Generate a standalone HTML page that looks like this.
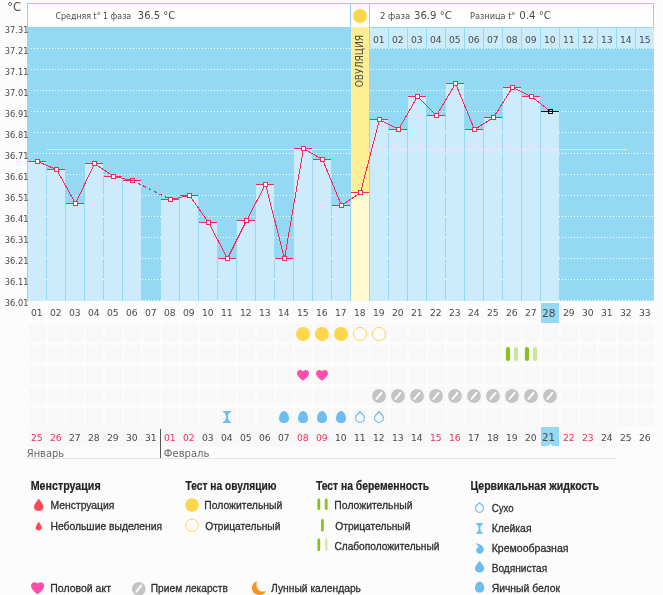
<!DOCTYPE html><html><head><meta charset="utf-8"><style>
html,body{margin:0;padding:0;background:#fcfcfc;}
body{width:663px;height:595px;overflow:hidden;position:relative;}
svg{position:absolute;left:0;top:0;will-change:transform;}
text{font-family:"Liberation Sans",Arial,sans-serif;}
</style></head><body>
<svg width="663" height="595" viewBox="0 0 663 595" shape-rendering="crispEdges">
<defs>
<pattern id="dots" x="0" y="0" width="3" height="1" patternUnits="userSpaceOnUse"><rect x="1" y="0" width="1" height="1" fill="#fff"/></pattern>
<pattern id="hatch" x="0" y="0" width="2" height="2" patternUnits="userSpaceOnUse"><rect width="2" height="2" fill="#fcfcfc"/><rect x="0" y="0" width="1" height="1" fill="#f4f4f4"/><rect x="1" y="1" width="1" height="1" fill="#f4f4f4"/></pattern>
</defs>
<rect x="27" y="3" width="627" height="24" fill="#fefefe"/>
<rect x="27" y="3" width="627" height="1" fill="#8fd5f1"/>
<rect x="27" y="3" width="1" height="24" fill="#8fd5f1"/>
<rect x="653" y="3" width="1" height="24" fill="#8fd5f1"/>
<rect x="350" y="3" width="1" height="24" fill="#8fd5f1"/>
<rect x="369" y="3" width="1" height="24" fill="#8fd5f1"/>
<rect x="27" y="27" width="627" height="274" fill="#94d9f3"/>
<rect x="30" y="48" width="624" height="1" fill="url(#dots)"/>
<rect x="30" y="69" width="624" height="1" fill="url(#dots)"/>
<rect x="30" y="90" width="624" height="1" fill="url(#dots)"/>
<rect x="30" y="111" width="624" height="1" fill="url(#dots)"/>
<rect x="30" y="132" width="624" height="1" fill="url(#dots)"/>
<rect x="30" y="153" width="624" height="1" fill="url(#dots)"/>
<rect x="30" y="174" width="624" height="1" fill="url(#dots)"/>
<rect x="30" y="195" width="624" height="1" fill="url(#dots)"/>
<rect x="30" y="216" width="624" height="1" fill="url(#dots)"/>
<rect x="30" y="237" width="624" height="1" fill="url(#dots)"/>
<rect x="30" y="258" width="624" height="1" fill="url(#dots)"/>
<rect x="30" y="279" width="624" height="1" fill="url(#dots)"/>
<rect x="30" y="300" width="624" height="1" fill="url(#dots)"/>
<rect x="351" y="27" width="18" height="274" fill="#fdee94"/>
<rect x="370" y="28" width="18" height="20" fill="#cdecfb"/>
<rect x="389" y="28" width="18" height="20" fill="#cdecfb"/>
<rect x="408" y="28" width="18" height="20" fill="#cdecfb"/>
<rect x="427" y="28" width="18" height="20" fill="#cdecfb"/>
<rect x="446" y="28" width="18" height="20" fill="#cdecfb"/>
<rect x="465" y="28" width="18" height="20" fill="#cdecfb"/>
<rect x="484" y="28" width="18" height="20" fill="#cdecfb"/>
<rect x="503" y="28" width="18" height="20" fill="#cdecfb"/>
<rect x="522" y="28" width="18" height="20" fill="#cdecfb"/>
<rect x="541" y="28" width="18" height="20" fill="#cdecfb"/>
<rect x="560" y="28" width="18" height="20" fill="#cdecfb"/>
<rect x="579" y="28" width="18" height="20" fill="#cdecfb"/>
<rect x="598" y="28" width="18" height="20" fill="#cdecfb"/>
<rect x="617" y="28" width="18" height="20" fill="#cdecfb"/>
<rect x="636" y="28" width="18" height="20" fill="#cdecfb"/>
<rect x="28" y="161" width="18" height="140" fill="#cdecfb"/>
<rect x="47" y="169" width="18" height="132" fill="#cdecfb"/>
<rect x="66" y="203" width="18" height="98" fill="#cdecfb"/>
<rect x="85" y="163" width="18" height="138" fill="#cdecfb"/>
<rect x="104" y="176" width="18" height="125" fill="#cdecfb"/>
<rect x="123" y="180" width="18" height="121" fill="#cdecfb"/>
<rect x="161" y="199" width="18" height="102" fill="#cdecfb"/>
<rect x="180" y="195" width="18" height="106" fill="#cdecfb"/>
<rect x="199" y="222" width="18" height="79" fill="#cdecfb"/>
<rect x="218" y="258" width="18" height="43" fill="#cdecfb"/>
<rect x="237" y="220" width="18" height="81" fill="#cdecfb"/>
<rect x="256" y="184" width="18" height="117" fill="#cdecfb"/>
<rect x="275" y="258" width="18" height="43" fill="#cdecfb"/>
<rect x="294" y="148" width="18" height="153" fill="#cdecfb"/>
<rect x="313" y="159" width="18" height="142" fill="#cdecfb"/>
<rect x="332" y="205" width="18" height="96" fill="#cdecfb"/>
<rect x="351" y="192" width="18" height="109" fill="#fff9d0"/>
<rect x="370" y="119" width="18" height="182" fill="#cdecfb"/>
<rect x="389" y="129" width="18" height="172" fill="#cdecfb"/>
<rect x="408" y="96" width="18" height="205" fill="#cdecfb"/>
<rect x="427" y="115" width="18" height="186" fill="#cdecfb"/>
<rect x="446" y="83" width="18" height="218" fill="#cdecfb"/>
<rect x="465" y="129" width="18" height="172" fill="#cdecfb"/>
<rect x="484" y="117" width="18" height="184" fill="#cdecfb"/>
<rect x="503" y="87" width="18" height="214" fill="#cdecfb"/>
<rect x="522" y="96" width="18" height="205" fill="#cdecfb"/>
<rect x="541" y="111" width="18" height="190" fill="#cdecfb"/>
<rect x="47" y="149" width="580" height="1" fill="#fdee93"/>
<rect x="28" y="161" width="18" height="1" fill="#f5295c"/>
<rect x="47" y="169" width="18" height="1" fill="#f5295c"/>
<rect x="66" y="203" width="18" height="1" fill="#f5295c"/>
<rect x="85" y="163" width="18" height="1" fill="#f5295c"/>
<rect x="104" y="176" width="18" height="1" fill="#f5295c"/>
<rect x="123" y="180" width="18" height="1" fill="#f5295c"/>
<rect x="161" y="199" width="18" height="1" fill="#f5295c"/>
<rect x="180" y="195" width="18" height="1" fill="#f5295c"/>
<rect x="199" y="222" width="18" height="1" fill="#f5295c"/>
<rect x="218" y="258" width="18" height="1" fill="#f5295c"/>
<rect x="237" y="220" width="18" height="1" fill="#f5295c"/>
<rect x="256" y="184" width="18" height="1" fill="#f5295c"/>
<rect x="275" y="258" width="18" height="1" fill="#f5295c"/>
<rect x="294" y="148" width="18" height="1" fill="#f5295c"/>
<rect x="313" y="159" width="18" height="1" fill="#f5295c"/>
<rect x="332" y="205" width="18" height="1" fill="#f5295c"/>
<rect x="351" y="192" width="18" height="1" fill="#f5295c"/>
<rect x="370" y="119" width="18" height="1" fill="#f5295c"/>
<rect x="389" y="129" width="18" height="1" fill="#f5295c"/>
<rect x="408" y="96" width="18" height="1" fill="#f5295c"/>
<rect x="427" y="115" width="18" height="1" fill="#f5295c"/>
<rect x="446" y="83" width="18" height="1" fill="#f5295c"/>
<rect x="465" y="129" width="18" height="1" fill="#f5295c"/>
<rect x="484" y="117" width="18" height="1" fill="#f5295c"/>
<rect x="503" y="87" width="18" height="1" fill="#f5295c"/>
<rect x="522" y="96" width="18" height="1" fill="#f5295c"/>
<rect x="541" y="111" width="18" height="1" fill="#111"/>
<path d="M37.5,161.5 L56.5,169.5 M56.5,169.5 L75.5,203.5 M75.5,203.5 L94.5,163.5 M94.5,163.5 L113.5,176.5 M113.5,176.5 L132.5,180.5 M170.5,199.5 L189.5,195.5 M189.5,195.5 L208.5,222.5 M208.5,222.5 L227.5,258.5 M227.5,258.5 L246.5,220.5 M246.5,220.5 L265.5,184.5 M265.5,184.5 L284.5,258.5 M284.5,258.5 L303.5,148.5 M303.5,148.5 L322.5,159.5 M322.5,159.5 L341.5,205.5 M341.5,205.5 L360.5,192.5 M360.5,192.5 L379.5,119.5 M379.5,119.5 L398.5,129.5 M398.5,129.5 L417.5,96.5 M417.5,96.5 L436.5,115.5 M436.5,115.5 L455.5,83.5 M455.5,83.5 L474.5,129.5 M474.5,129.5 L493.5,117.5 M493.5,117.5 L512.5,87.5 M512.5,87.5 L531.5,96.5 M531.5,96.5 L550.5,111.5" stroke="#f5295c" stroke-width="1" fill="none" shape-rendering="crispEdges"/>
<path d="M132.5,180.5 L170.5,199.5" stroke="#f5295c" stroke-width="1" stroke-dasharray="3,3" fill="none" shape-rendering="crispEdges"/>
<rect x="35" y="159" width="5" height="5" fill="#f5295c"/><rect x="36" y="160" width="3" height="3" fill="#fff"/>
<rect x="54" y="167" width="5" height="5" fill="#f5295c"/><rect x="55" y="168" width="3" height="3" fill="#fff"/>
<rect x="73" y="201" width="5" height="5" fill="#f5295c"/><rect x="74" y="202" width="3" height="3" fill="#fff"/>
<rect x="92" y="161" width="5" height="5" fill="#f5295c"/><rect x="93" y="162" width="3" height="3" fill="#fff"/>
<rect x="111" y="174" width="5" height="5" fill="#f5295c"/><rect x="112" y="175" width="3" height="3" fill="#fff"/>
<path d="M130,178h5v5h-5Z M131,179v3h3v-3Z" fill="#f5295c" fill-rule="evenodd"/><rect x="131" y="180" width="3" height="1" fill="#f5295c"/><rect x="131" y="181" width="3" height="1" fill="#e6f6fd"/>
<rect x="168" y="197" width="5" height="5" fill="#f5295c"/><rect x="169" y="198" width="3" height="3" fill="#fff"/>
<rect x="187" y="193" width="5" height="5" fill="#f5295c"/><rect x="188" y="194" width="3" height="3" fill="#fff"/>
<rect x="206" y="220" width="5" height="5" fill="#f5295c"/><rect x="207" y="221" width="3" height="3" fill="#fff"/>
<rect x="225" y="256" width="5" height="5" fill="#f5295c"/><rect x="226" y="257" width="3" height="3" fill="#fff"/>
<rect x="244" y="218" width="5" height="5" fill="#f5295c"/><rect x="245" y="219" width="3" height="3" fill="#fff"/>
<rect x="263" y="182" width="5" height="5" fill="#f5295c"/><rect x="264" y="183" width="3" height="3" fill="#fff"/>
<rect x="282" y="256" width="5" height="5" fill="#f5295c"/><rect x="283" y="257" width="3" height="3" fill="#fff"/>
<rect x="301" y="146" width="5" height="5" fill="#f5295c"/><rect x="302" y="147" width="3" height="3" fill="#fff"/>
<rect x="320" y="157" width="5" height="5" fill="#f5295c"/><rect x="321" y="158" width="3" height="3" fill="#fff"/>
<rect x="339" y="203" width="5" height="5" fill="#f5295c"/><rect x="340" y="204" width="3" height="3" fill="#fff"/>
<rect x="358" y="190" width="5" height="5" fill="#f5295c"/><rect x="359" y="191" width="3" height="3" fill="#fff"/>
<rect x="377" y="117" width="5" height="5" fill="#f5295c"/><rect x="378" y="118" width="3" height="3" fill="#fff"/>
<rect x="396" y="127" width="5" height="5" fill="#f5295c"/><rect x="397" y="128" width="3" height="3" fill="#fff"/>
<rect x="415" y="94" width="5" height="5" fill="#f5295c"/><rect x="416" y="95" width="3" height="3" fill="#fff"/>
<rect x="434" y="113" width="5" height="5" fill="#f5295c"/><rect x="435" y="114" width="3" height="3" fill="#fff"/>
<rect x="453" y="81" width="5" height="5" fill="#f5295c"/><rect x="454" y="82" width="3" height="3" fill="#fff"/>
<rect x="472" y="127" width="5" height="5" fill="#f5295c"/><rect x="473" y="128" width="3" height="3" fill="#fff"/>
<rect x="491" y="115" width="5" height="5" fill="#f5295c"/><rect x="492" y="116" width="3" height="3" fill="#fff"/>
<rect x="510" y="85" width="5" height="5" fill="#f5295c"/><rect x="511" y="86" width="3" height="3" fill="#fff"/>
<rect x="529" y="94" width="5" height="5" fill="#f5295c"/><rect x="530" y="95" width="3" height="3" fill="#fff"/>
<path d="M548,109h5v5h-5Z M549,110v3h3v-3Z" fill="#111" fill-rule="evenodd"/><rect x="549" y="111" width="3" height="1" fill="#111"/><rect x="549" y="112" width="3" height="1" fill="#e6f6fd"/>
<circle cx="360" cy="16" r="7" fill="#fdd64c" shape-rendering="geometricPrecision"/>
<text transform="translate(363.2,87.3) rotate(-90)" font-size="10" fill="#4a4a4a" textLength="52.3" lengthAdjust="spacingAndGlyphs" style="font-family:'DejaVu Sans Condensed','DejaVu Sans',sans-serif">ОВУЛЯЦИЯ</text>
<rect x="541" y="303" width="18" height="20" fill="#94d9f3"/>
<rect x="29" y="324" width="17" height="18" fill="url(#hatch)"/>
<rect x="48" y="324" width="17" height="18" fill="url(#hatch)"/>
<rect x="67" y="324" width="17" height="18" fill="url(#hatch)"/>
<rect x="86" y="324" width="17" height="18" fill="url(#hatch)"/>
<rect x="105" y="324" width="17" height="18" fill="url(#hatch)"/>
<rect x="124" y="324" width="17" height="18" fill="url(#hatch)"/>
<rect x="143" y="324" width="17" height="18" fill="url(#hatch)"/>
<rect x="162" y="324" width="17" height="18" fill="url(#hatch)"/>
<rect x="181" y="324" width="17" height="18" fill="url(#hatch)"/>
<rect x="200" y="324" width="17" height="18" fill="url(#hatch)"/>
<rect x="219" y="324" width="17" height="18" fill="url(#hatch)"/>
<rect x="238" y="324" width="17" height="18" fill="url(#hatch)"/>
<rect x="257" y="324" width="17" height="18" fill="url(#hatch)"/>
<rect x="276" y="324" width="17" height="18" fill="url(#hatch)"/>
<rect x="295" y="324" width="17" height="18" fill="url(#hatch)"/>
<rect x="314" y="324" width="17" height="18" fill="url(#hatch)"/>
<rect x="333" y="324" width="17" height="18" fill="url(#hatch)"/>
<rect x="352" y="324" width="17" height="18" fill="url(#hatch)"/>
<rect x="371" y="324" width="17" height="18" fill="url(#hatch)"/>
<rect x="390" y="324" width="17" height="18" fill="url(#hatch)"/>
<rect x="409" y="324" width="17" height="18" fill="url(#hatch)"/>
<rect x="428" y="324" width="17" height="18" fill="url(#hatch)"/>
<rect x="447" y="324" width="17" height="18" fill="url(#hatch)"/>
<rect x="466" y="324" width="17" height="18" fill="url(#hatch)"/>
<rect x="485" y="324" width="17" height="18" fill="url(#hatch)"/>
<rect x="504" y="324" width="17" height="18" fill="url(#hatch)"/>
<rect x="523" y="324" width="17" height="18" fill="url(#hatch)"/>
<rect x="542" y="324" width="17" height="18" fill="url(#hatch)"/>
<rect x="561" y="324" width="17" height="18" fill="url(#hatch)"/>
<rect x="580" y="324" width="17" height="18" fill="url(#hatch)"/>
<rect x="599" y="324" width="17" height="18" fill="url(#hatch)"/>
<rect x="618" y="324" width="17" height="18" fill="url(#hatch)"/>
<rect x="637" y="324" width="17" height="18" fill="url(#hatch)"/>
<rect x="29" y="345" width="17" height="18" fill="url(#hatch)"/>
<rect x="48" y="345" width="17" height="18" fill="url(#hatch)"/>
<rect x="67" y="345" width="17" height="18" fill="url(#hatch)"/>
<rect x="86" y="345" width="17" height="18" fill="url(#hatch)"/>
<rect x="105" y="345" width="17" height="18" fill="url(#hatch)"/>
<rect x="124" y="345" width="17" height="18" fill="url(#hatch)"/>
<rect x="143" y="345" width="17" height="18" fill="url(#hatch)"/>
<rect x="162" y="345" width="17" height="18" fill="url(#hatch)"/>
<rect x="181" y="345" width="17" height="18" fill="url(#hatch)"/>
<rect x="200" y="345" width="17" height="18" fill="url(#hatch)"/>
<rect x="219" y="345" width="17" height="18" fill="url(#hatch)"/>
<rect x="238" y="345" width="17" height="18" fill="url(#hatch)"/>
<rect x="257" y="345" width="17" height="18" fill="url(#hatch)"/>
<rect x="276" y="345" width="17" height="18" fill="url(#hatch)"/>
<rect x="295" y="345" width="17" height="18" fill="url(#hatch)"/>
<rect x="314" y="345" width="17" height="18" fill="url(#hatch)"/>
<rect x="333" y="345" width="17" height="18" fill="url(#hatch)"/>
<rect x="352" y="345" width="17" height="18" fill="url(#hatch)"/>
<rect x="371" y="345" width="17" height="18" fill="url(#hatch)"/>
<rect x="390" y="345" width="17" height="18" fill="url(#hatch)"/>
<rect x="409" y="345" width="17" height="18" fill="url(#hatch)"/>
<rect x="428" y="345" width="17" height="18" fill="url(#hatch)"/>
<rect x="447" y="345" width="17" height="18" fill="url(#hatch)"/>
<rect x="466" y="345" width="17" height="18" fill="url(#hatch)"/>
<rect x="485" y="345" width="17" height="18" fill="url(#hatch)"/>
<rect x="504" y="345" width="17" height="18" fill="url(#hatch)"/>
<rect x="523" y="345" width="17" height="18" fill="url(#hatch)"/>
<rect x="542" y="345" width="17" height="18" fill="url(#hatch)"/>
<rect x="561" y="345" width="17" height="18" fill="url(#hatch)"/>
<rect x="580" y="345" width="17" height="18" fill="url(#hatch)"/>
<rect x="599" y="345" width="17" height="18" fill="url(#hatch)"/>
<rect x="618" y="345" width="17" height="18" fill="url(#hatch)"/>
<rect x="637" y="345" width="17" height="18" fill="url(#hatch)"/>
<rect x="29" y="366" width="17" height="18" fill="url(#hatch)"/>
<rect x="48" y="366" width="17" height="18" fill="url(#hatch)"/>
<rect x="67" y="366" width="17" height="18" fill="url(#hatch)"/>
<rect x="86" y="366" width="17" height="18" fill="url(#hatch)"/>
<rect x="105" y="366" width="17" height="18" fill="url(#hatch)"/>
<rect x="124" y="366" width="17" height="18" fill="url(#hatch)"/>
<rect x="143" y="366" width="17" height="18" fill="url(#hatch)"/>
<rect x="162" y="366" width="17" height="18" fill="url(#hatch)"/>
<rect x="181" y="366" width="17" height="18" fill="url(#hatch)"/>
<rect x="200" y="366" width="17" height="18" fill="url(#hatch)"/>
<rect x="219" y="366" width="17" height="18" fill="url(#hatch)"/>
<rect x="238" y="366" width="17" height="18" fill="url(#hatch)"/>
<rect x="257" y="366" width="17" height="18" fill="url(#hatch)"/>
<rect x="276" y="366" width="17" height="18" fill="url(#hatch)"/>
<rect x="295" y="366" width="17" height="18" fill="url(#hatch)"/>
<rect x="314" y="366" width="17" height="18" fill="url(#hatch)"/>
<rect x="333" y="366" width="17" height="18" fill="url(#hatch)"/>
<rect x="352" y="366" width="17" height="18" fill="url(#hatch)"/>
<rect x="371" y="366" width="17" height="18" fill="url(#hatch)"/>
<rect x="390" y="366" width="17" height="18" fill="url(#hatch)"/>
<rect x="409" y="366" width="17" height="18" fill="url(#hatch)"/>
<rect x="428" y="366" width="17" height="18" fill="url(#hatch)"/>
<rect x="447" y="366" width="17" height="18" fill="url(#hatch)"/>
<rect x="466" y="366" width="17" height="18" fill="url(#hatch)"/>
<rect x="485" y="366" width="17" height="18" fill="url(#hatch)"/>
<rect x="504" y="366" width="17" height="18" fill="url(#hatch)"/>
<rect x="523" y="366" width="17" height="18" fill="url(#hatch)"/>
<rect x="542" y="366" width="17" height="18" fill="url(#hatch)"/>
<rect x="561" y="366" width="17" height="18" fill="url(#hatch)"/>
<rect x="580" y="366" width="17" height="18" fill="url(#hatch)"/>
<rect x="599" y="366" width="17" height="18" fill="url(#hatch)"/>
<rect x="618" y="366" width="17" height="18" fill="url(#hatch)"/>
<rect x="637" y="366" width="17" height="18" fill="url(#hatch)"/>
<rect x="29" y="387" width="17" height="18" fill="url(#hatch)"/>
<rect x="48" y="387" width="17" height="18" fill="url(#hatch)"/>
<rect x="67" y="387" width="17" height="18" fill="url(#hatch)"/>
<rect x="86" y="387" width="17" height="18" fill="url(#hatch)"/>
<rect x="105" y="387" width="17" height="18" fill="url(#hatch)"/>
<rect x="124" y="387" width="17" height="18" fill="url(#hatch)"/>
<rect x="143" y="387" width="17" height="18" fill="url(#hatch)"/>
<rect x="162" y="387" width="17" height="18" fill="url(#hatch)"/>
<rect x="181" y="387" width="17" height="18" fill="url(#hatch)"/>
<rect x="200" y="387" width="17" height="18" fill="url(#hatch)"/>
<rect x="219" y="387" width="17" height="18" fill="url(#hatch)"/>
<rect x="238" y="387" width="17" height="18" fill="url(#hatch)"/>
<rect x="257" y="387" width="17" height="18" fill="url(#hatch)"/>
<rect x="276" y="387" width="17" height="18" fill="url(#hatch)"/>
<rect x="295" y="387" width="17" height="18" fill="url(#hatch)"/>
<rect x="314" y="387" width="17" height="18" fill="url(#hatch)"/>
<rect x="333" y="387" width="17" height="18" fill="url(#hatch)"/>
<rect x="352" y="387" width="17" height="18" fill="url(#hatch)"/>
<rect x="371" y="387" width="17" height="18" fill="url(#hatch)"/>
<rect x="390" y="387" width="17" height="18" fill="url(#hatch)"/>
<rect x="409" y="387" width="17" height="18" fill="url(#hatch)"/>
<rect x="428" y="387" width="17" height="18" fill="url(#hatch)"/>
<rect x="447" y="387" width="17" height="18" fill="url(#hatch)"/>
<rect x="466" y="387" width="17" height="18" fill="url(#hatch)"/>
<rect x="485" y="387" width="17" height="18" fill="url(#hatch)"/>
<rect x="504" y="387" width="17" height="18" fill="url(#hatch)"/>
<rect x="523" y="387" width="17" height="18" fill="url(#hatch)"/>
<rect x="542" y="387" width="17" height="18" fill="url(#hatch)"/>
<rect x="561" y="387" width="17" height="18" fill="url(#hatch)"/>
<rect x="580" y="387" width="17" height="18" fill="url(#hatch)"/>
<rect x="599" y="387" width="17" height="18" fill="url(#hatch)"/>
<rect x="618" y="387" width="17" height="18" fill="url(#hatch)"/>
<rect x="637" y="387" width="17" height="18" fill="url(#hatch)"/>
<rect x="29" y="408" width="17" height="18" fill="url(#hatch)"/>
<rect x="48" y="408" width="17" height="18" fill="url(#hatch)"/>
<rect x="67" y="408" width="17" height="18" fill="url(#hatch)"/>
<rect x="86" y="408" width="17" height="18" fill="url(#hatch)"/>
<rect x="105" y="408" width="17" height="18" fill="url(#hatch)"/>
<rect x="124" y="408" width="17" height="18" fill="url(#hatch)"/>
<rect x="143" y="408" width="17" height="18" fill="url(#hatch)"/>
<rect x="162" y="408" width="17" height="18" fill="url(#hatch)"/>
<rect x="181" y="408" width="17" height="18" fill="url(#hatch)"/>
<rect x="200" y="408" width="17" height="18" fill="url(#hatch)"/>
<rect x="219" y="408" width="17" height="18" fill="url(#hatch)"/>
<rect x="238" y="408" width="17" height="18" fill="url(#hatch)"/>
<rect x="257" y="408" width="17" height="18" fill="url(#hatch)"/>
<rect x="276" y="408" width="17" height="18" fill="url(#hatch)"/>
<rect x="295" y="408" width="17" height="18" fill="url(#hatch)"/>
<rect x="314" y="408" width="17" height="18" fill="url(#hatch)"/>
<rect x="333" y="408" width="17" height="18" fill="url(#hatch)"/>
<rect x="352" y="408" width="17" height="18" fill="url(#hatch)"/>
<rect x="371" y="408" width="17" height="18" fill="url(#hatch)"/>
<rect x="390" y="408" width="17" height="18" fill="url(#hatch)"/>
<rect x="409" y="408" width="17" height="18" fill="url(#hatch)"/>
<rect x="428" y="408" width="17" height="18" fill="url(#hatch)"/>
<rect x="447" y="408" width="17" height="18" fill="url(#hatch)"/>
<rect x="466" y="408" width="17" height="18" fill="url(#hatch)"/>
<rect x="485" y="408" width="17" height="18" fill="url(#hatch)"/>
<rect x="504" y="408" width="17" height="18" fill="url(#hatch)"/>
<rect x="523" y="408" width="17" height="18" fill="url(#hatch)"/>
<rect x="542" y="408" width="17" height="18" fill="url(#hatch)"/>
<rect x="561" y="408" width="17" height="18" fill="url(#hatch)"/>
<rect x="580" y="408" width="17" height="18" fill="url(#hatch)"/>
<rect x="599" y="408" width="17" height="18" fill="url(#hatch)"/>
<rect x="618" y="408" width="17" height="18" fill="url(#hatch)"/>
<rect x="637" y="408" width="17" height="18" fill="url(#hatch)"/>
<rect x="28" y="426" width="589" height="21" fill="url(#hatch)"/>
<rect x="541" y="427" width="18" height="19" fill="#94d9f3"/>
<path d="M548.3,446 L550.5,443.6 L552.7,446 Z" fill="#fcfcfc" shape-rendering="geometricPrecision"/>
<rect x="160" y="429" width="1" height="30" fill="#555"/>
<rect x="27" y="458" width="590" height="1" fill="#e3e3e3"/>
<circle cx="303" cy="334" r="7" fill="#fdd64c" shape-rendering="geometricPrecision"/>
<circle cx="322" cy="334" r="7" fill="#fdd64c" shape-rendering="geometricPrecision"/>
<circle cx="341" cy="334" r="7" fill="#fdd64c" shape-rendering="geometricPrecision"/>
<circle cx="360" cy="334" r="6.5" fill="#fdfdfd" stroke="#fdd64c" stroke-width="1.0" shape-rendering="geometricPrecision"/>
<circle cx="379" cy="334" r="6.5" fill="#fdfdfd" stroke="#fdd64c" stroke-width="1.0" shape-rendering="geometricPrecision"/>
<path transform="translate(303,375.4) scale(1.0)" d="M0,5.4 C-1.5,4.2 -6,1 -6,-2.2 C-6,-4.2 -4.6,-5.5 -3,-5.5 C-1.6,-5.5 -0.5,-4.8 0,-4.2 C0.5,-4.8 1.6,-5.5 3,-5.5 C4.6,-5.5 6,-4.2 6,-2.2 C6,1 1.5,4.2 0,5.4 Z" fill="#ff4fac" shape-rendering="geometricPrecision"/>
<path transform="translate(322,375.4) scale(1.0)" d="M0,5.4 C-1.5,4.2 -6,1 -6,-2.2 C-6,-4.2 -4.6,-5.5 -3,-5.5 C-1.6,-5.5 -0.5,-4.8 0,-4.2 C0.5,-4.8 1.6,-5.5 3,-5.5 C4.6,-5.5 6,-4.2 6,-2.2 C6,1 1.5,4.2 0,5.4 Z" fill="#ff4fac" shape-rendering="geometricPrecision"/>
<g transform="translate(379,396)" shape-rendering="geometricPrecision"><circle r="6.9" fill="#c4c4c4"/><line x1="-2.6" y1="3.0" x2="2.5" y2="-3.2" stroke="#fff" stroke-width="1.9" stroke-linecap="round"/></g>
<g transform="translate(398,396)" shape-rendering="geometricPrecision"><circle r="6.9" fill="#c4c4c4"/><line x1="-2.6" y1="3.0" x2="2.5" y2="-3.2" stroke="#fff" stroke-width="1.9" stroke-linecap="round"/></g>
<g transform="translate(417,396)" shape-rendering="geometricPrecision"><circle r="6.9" fill="#c4c4c4"/><line x1="-2.6" y1="3.0" x2="2.5" y2="-3.2" stroke="#fff" stroke-width="1.9" stroke-linecap="round"/></g>
<g transform="translate(436,396)" shape-rendering="geometricPrecision"><circle r="6.9" fill="#c4c4c4"/><line x1="-2.6" y1="3.0" x2="2.5" y2="-3.2" stroke="#fff" stroke-width="1.9" stroke-linecap="round"/></g>
<g transform="translate(455,396)" shape-rendering="geometricPrecision"><circle r="6.9" fill="#c4c4c4"/><line x1="-2.6" y1="3.0" x2="2.5" y2="-3.2" stroke="#fff" stroke-width="1.9" stroke-linecap="round"/></g>
<g transform="translate(474,396)" shape-rendering="geometricPrecision"><circle r="6.9" fill="#c4c4c4"/><line x1="-2.6" y1="3.0" x2="2.5" y2="-3.2" stroke="#fff" stroke-width="1.9" stroke-linecap="round"/></g>
<g transform="translate(493,396)" shape-rendering="geometricPrecision"><circle r="6.9" fill="#c4c4c4"/><line x1="-2.6" y1="3.0" x2="2.5" y2="-3.2" stroke="#fff" stroke-width="1.9" stroke-linecap="round"/></g>
<g transform="translate(512,396)" shape-rendering="geometricPrecision"><circle r="6.9" fill="#c4c4c4"/><line x1="-2.6" y1="3.0" x2="2.5" y2="-3.2" stroke="#fff" stroke-width="1.9" stroke-linecap="round"/></g>
<g transform="translate(531,396)" shape-rendering="geometricPrecision"><circle r="6.9" fill="#c4c4c4"/><line x1="-2.6" y1="3.0" x2="2.5" y2="-3.2" stroke="#fff" stroke-width="1.9" stroke-linecap="round"/></g>
<g transform="translate(550,396)" shape-rendering="geometricPrecision"><circle r="6.9" fill="#c4c4c4"/><line x1="-2.6" y1="3.0" x2="2.5" y2="-3.2" stroke="#fff" stroke-width="1.9" stroke-linecap="round"/></g>
<rect x="505.9" y="347" width="4.2" height="14.1" rx="2.1" fill="#8dbf1e" shape-rendering="geometricPrecision"/><rect x="513.9" y="347" width="4.2" height="14.1" rx="2.1" fill="#cde29a" shape-rendering="geometricPrecision"/>
<rect x="524.9" y="347" width="4.2" height="14.1" rx="2.1" fill="#8dbf1e" shape-rendering="geometricPrecision"/><rect x="532.9" y="347" width="4.2" height="14.1" rx="2.1" fill="#cde29a" shape-rendering="geometricPrecision"/>
<path transform="translate(227,417) scale(1.05)" d="M-4,-5.8 L4,-5.8 L4,-5 C2.5,-4.2 1.1,-2.8 1,-1 L1,1 C1.1,2.8 2.5,4.2 4,5 L4,5.8 L-4,5.8 L-4,5 C-2.5,4.2 -1.1,2.8 -1,1 L-1,-1 C-1.1,-2.8 -2.5,-4.2 -4,-5 Z" fill="#6dbdf0" shape-rendering="geometricPrecision"/>
<path transform="translate(284,417) scale(1.0)" d="M0,-6.1 C3,-6.1 5,-2 5,1.4 C5,4.3 2.8,6 0,6 C-2.8,6 -5,4.3 -5,1.4 C-5,-2 -3,-6.1 0,-6.1 Z" fill="#6dbdf0" shape-rendering="geometricPrecision"/>
<path transform="translate(303,417) scale(1.0)" d="M0,-6.1 C3,-6.1 5,-2 5,1.4 C5,4.3 2.8,6 0,6 C-2.8,6 -5,4.3 -5,1.4 C-5,-2 -3,-6.1 0,-6.1 Z" fill="#6dbdf0" shape-rendering="geometricPrecision"/>
<path transform="translate(322,417) scale(1.0)" d="M0,-6.1 C3,-6.1 5,-2 5,1.4 C5,4.3 2.8,6 0,6 C-2.8,6 -5,4.3 -5,1.4 C-5,-2 -3,-6.1 0,-6.1 Z" fill="#6dbdf0" shape-rendering="geometricPrecision"/>
<path transform="translate(341,417) scale(1.0)" d="M0,-6.1 C3,-6.1 5,-2 5,1.4 C5,4.3 2.8,6 0,6 C-2.8,6 -5,4.3 -5,1.4 C-5,-2 -3,-6.1 0,-6.1 Z" fill="#6dbdf0" shape-rendering="geometricPrecision"/>
<path transform="translate(360,418.00)" d="M0,-6.20 L3.10,-3.05 A4.35,4.35 0 1 1 -3.10,-3.05 Z" fill="none" stroke="#6dbdf0" stroke-width="1.25" stroke-linejoin="round" shape-rendering="geometricPrecision"/>
<path transform="translate(379,418.00)" d="M0,-6.20 L3.10,-3.05 A4.35,4.35 0 1 1 -3.10,-3.05 Z" fill="none" stroke="#6dbdf0" stroke-width="1.25" stroke-linejoin="round" shape-rendering="geometricPrecision"/>
<path transform="translate(38.7,505)" d="M0,-6.5 C1.5,-4 4.7,-0.8 4.7,2 C4.7,4.6 2.6,6 0,6 C-2.6,6 -4.7,4.6 -4.7,2 C-4.7,-0.8 -1.5,-4 0,-6.5 Z" fill="#fb4a52" shape-rendering="geometricPrecision"/>
<path transform="translate(38.7,526.3)" d="M0,-4.5 C1,-3 3,-0.6 3,1.5 C3,3.2 1.6,4.2 0,4.2 C-1.6,4.2 -3,3.2 -3,1.5 C-3,-0.6 -1,-3 0,-4.5 Z" fill="#fb4a52" shape-rendering="geometricPrecision"/>
<circle cx="192" cy="505" r="6.8" fill="#fdd64c" shape-rendering="geometricPrecision"/>
<circle cx="192" cy="525.3" r="6.3" fill="none" stroke="#fdd64c" stroke-width="1.0" shape-rendering="geometricPrecision"/>
<rect x="317.4" y="498.5" width="2.8" height="11.6" rx="1.4" fill="#8dbf1e" shape-rendering="geometricPrecision"/><rect x="324.8" y="498.5" width="2.8" height="11.6" rx="1.4" fill="#8dbf1e" shape-rendering="geometricPrecision"/>
<rect x="321" y="519" width="2.8" height="12.6" rx="1.4" fill="#8dbf1e" shape-rendering="geometricPrecision"/>
<rect x="317.4" y="538.6" width="2.8" height="12.6" rx="1.4" fill="#8dbf1e" shape-rendering="geometricPrecision"/><rect x="324.8" y="538.6" width="2.8" height="12.6" rx="1.4" fill="#dbe9b4" shape-rendering="geometricPrecision"/>
<path transform="translate(479.5,508.27)" d="M0,-5.70 L2.85,-2.81 A4.002,4.002 0 1 1 -2.85,-2.81 Z" fill="none" stroke="#6dbdf0" stroke-width="1.25" stroke-linejoin="round" shape-rendering="geometricPrecision"/>
<path transform="translate(479.5,528.45) scale(0.93)" d="M-4,-5.8 L4,-5.8 L4,-5 C2.5,-4.2 1.1,-2.8 1,-1 L1,1 C1.1,2.8 2.5,4.2 4,5 L4,5.8 L-4,5.8 L-4,5 C-2.5,4.2 -1.1,2.8 -1,1 L-1,-1 C-1.1,-2.8 -2.5,-4.2 -4,-5 Z" fill="#6dbdf0" shape-rendering="geometricPrecision"/>
<path transform="translate(480,548.8) scale(1.0)" d="M-5,-5.6 C-1,-5.4 3.8,-3.4 3.8,0.8 C3.8,3.4 1.9,5 -0.3,5 C-2.5,5 -3.9,3.4 -3.9,1.5 C-3.9,0 -3,-1 -1.3,-1.5 C-2,-3.5 -3.5,-4.9 -5,-5.6 Z" fill="#6dbdf0" shape-rendering="geometricPrecision"/>
<path transform="translate(479.6,566.45) scale(1.0)" d="M0,-6 C0.6,-4 4.6,-1.2 4.6,2 C4.6,4.4 2.6,6 0,6 C-2.6,6 -4.6,4.4 -4.6,2 C-4.6,-1.2 -0.6,-4 0,-6 Z" fill="#6dbdf0" shape-rendering="geometricPrecision"/>
<path transform="translate(479.6,587.1) scale(0.92)" d="M0,-6.1 C3,-6.1 5,-2 5,1.4 C5,4.3 2.8,6 0,6 C-2.8,6 -5,4.3 -5,1.4 C-5,-2 -3,-6.1 0,-6.1 Z" fill="#6dbdf0" shape-rendering="geometricPrecision"/>
<path transform="translate(37.6,588.3) scale(1.1)" d="M0,5.4 C-1.5,4.2 -6,1 -6,-2.2 C-6,-4.2 -4.6,-5.5 -3,-5.5 C-1.6,-5.5 -0.5,-4.8 0,-4.2 C0.5,-4.8 1.6,-5.5 3,-5.5 C4.6,-5.5 6,-4.2 6,-2.2 C6,1 1.5,4.2 0,5.4 Z" fill="#ff4fac" shape-rendering="geometricPrecision"/>
<g transform="translate(138.8,588.8)" shape-rendering="geometricPrecision"><circle r="6.9" fill="#c4c4c4"/><line x1="-2.6" y1="3.0" x2="2.5" y2="-3.2" stroke="#fff" stroke-width="1.9" stroke-linecap="round"/></g>
<path transform="translate(259,588)" d="M-2,-7 C-6,-5.5 -7.5,-2 -7,1.5 C-6.3,5 -3,7 0.5,7 C3.5,7 6,5.5 7,3 C3.5,4.2 0.3,3.6 -1.2,1.1 C-2.7,-1.5 -2.9,-4.5 -2,-7 Z" fill="#f7941d" shape-rendering="geometricPrecision"/>
<g shape-rendering="geometricPrecision" style="opacity:0.999">
<text x="7.37" y="10.9" font-size="12.2" fill="#4a4a4a" style="font-family:'DejaVu Sans Condensed','DejaVu Sans',sans-serif" textLength="13.58" lengthAdjust="spacingAndGlyphs">°C</text>
<text x="4.81" y="32.8" font-size="9.3" fill="#4a4a4a" style="font-family:'DejaVu Sans Condensed','DejaVu Sans',sans-serif" textLength="23.61" lengthAdjust="spacingAndGlyphs">37.31</text>
<text x="4.81" y="53.8" font-size="9.3" fill="#4a4a4a" style="font-family:'DejaVu Sans Condensed','DejaVu Sans',sans-serif" textLength="23.61" lengthAdjust="spacingAndGlyphs">37.21</text>
<text x="4.81" y="74.8" font-size="9.3" fill="#4a4a4a" style="font-family:'DejaVu Sans Condensed','DejaVu Sans',sans-serif" textLength="23.61" lengthAdjust="spacingAndGlyphs">37.11</text>
<text x="4.81" y="95.8" font-size="9.3" fill="#4a4a4a" style="font-family:'DejaVu Sans Condensed','DejaVu Sans',sans-serif" textLength="23.61" lengthAdjust="spacingAndGlyphs">37.01</text>
<text x="4.81" y="116.8" font-size="9.3" fill="#4a4a4a" style="font-family:'DejaVu Sans Condensed','DejaVu Sans',sans-serif" textLength="23.61" lengthAdjust="spacingAndGlyphs">36.91</text>
<text x="4.81" y="137.8" font-size="9.3" fill="#4a4a4a" style="font-family:'DejaVu Sans Condensed','DejaVu Sans',sans-serif" textLength="23.61" lengthAdjust="spacingAndGlyphs">36.81</text>
<text x="4.81" y="158.8" font-size="9.3" fill="#4a4a4a" style="font-family:'DejaVu Sans Condensed','DejaVu Sans',sans-serif" textLength="23.61" lengthAdjust="spacingAndGlyphs">36.71</text>
<text x="4.81" y="179.8" font-size="9.3" fill="#4a4a4a" style="font-family:'DejaVu Sans Condensed','DejaVu Sans',sans-serif" textLength="23.61" lengthAdjust="spacingAndGlyphs">36.61</text>
<text x="4.81" y="200.8" font-size="9.3" fill="#4a4a4a" style="font-family:'DejaVu Sans Condensed','DejaVu Sans',sans-serif" textLength="23.61" lengthAdjust="spacingAndGlyphs">36.51</text>
<text x="4.81" y="221.8" font-size="9.3" fill="#4a4a4a" style="font-family:'DejaVu Sans Condensed','DejaVu Sans',sans-serif" textLength="23.61" lengthAdjust="spacingAndGlyphs">36.41</text>
<text x="4.81" y="242.8" font-size="9.3" fill="#4a4a4a" style="font-family:'DejaVu Sans Condensed','DejaVu Sans',sans-serif" textLength="23.61" lengthAdjust="spacingAndGlyphs">36.31</text>
<text x="4.81" y="263.8" font-size="9.3" fill="#4a4a4a" style="font-family:'DejaVu Sans Condensed','DejaVu Sans',sans-serif" textLength="23.61" lengthAdjust="spacingAndGlyphs">36.21</text>
<text x="4.81" y="284.8" font-size="9.3" fill="#4a4a4a" style="font-family:'DejaVu Sans Condensed','DejaVu Sans',sans-serif" textLength="23.61" lengthAdjust="spacingAndGlyphs">36.11</text>
<text x="4.81" y="305.8" font-size="9.3" fill="#4a4a4a" style="font-family:'DejaVu Sans Condensed','DejaVu Sans',sans-serif" textLength="23.61" lengthAdjust="spacingAndGlyphs">36.01</text>
<text x="55.60" y="19" font-size="9.3" fill="#4a4a4a" style="font-family:'DejaVu Sans Condensed','DejaVu Sans',sans-serif" textLength="75.61" lengthAdjust="spacingAndGlyphs">Средняя t° 1 фаза</text>
<text x="137.83" y="19" font-size="10.4" fill="#4a4a4a" style="font-family:'DejaVu Sans Condensed','DejaVu Sans',sans-serif" textLength="37.42" lengthAdjust="spacingAndGlyphs">36.5 °C</text>
<text x="379.99" y="19" font-size="9.3" fill="#4a4a4a" style="font-family:'DejaVu Sans Condensed','DejaVu Sans',sans-serif" textLength="30.25" lengthAdjust="spacingAndGlyphs">2 фаза</text>
<text x="414.02" y="19" font-size="10.4" fill="#4a4a4a" style="font-family:'DejaVu Sans Condensed','DejaVu Sans',sans-serif" textLength="37.85" lengthAdjust="spacingAndGlyphs">36.9 °C</text>
<text x="470.12" y="19" font-size="9.3" fill="#4a4a4a" style="font-family:'DejaVu Sans Condensed','DejaVu Sans',sans-serif" textLength="45.32" lengthAdjust="spacingAndGlyphs">Разница t°</text>
<text x="519.31" y="19" font-size="10.4" fill="#4a4a4a" style="font-family:'DejaVu Sans Condensed','DejaVu Sans',sans-serif" textLength="31.61" lengthAdjust="spacingAndGlyphs">0.4 °C</text>
<text x="372.95" y="43" font-size="9.3" fill="#4a4a4a" style="font-family:'DejaVu Sans Condensed','DejaVu Sans',sans-serif" textLength="11.70" lengthAdjust="spacingAndGlyphs">01</text>
<text x="391.95" y="43" font-size="9.3" fill="#4a4a4a" style="font-family:'DejaVu Sans Condensed','DejaVu Sans',sans-serif" textLength="11.70" lengthAdjust="spacingAndGlyphs">02</text>
<text x="410.95" y="43" font-size="9.3" fill="#4a4a4a" style="font-family:'DejaVu Sans Condensed','DejaVu Sans',sans-serif" textLength="11.70" lengthAdjust="spacingAndGlyphs">03</text>
<text x="429.95" y="43" font-size="9.3" fill="#4a4a4a" style="font-family:'DejaVu Sans Condensed','DejaVu Sans',sans-serif" textLength="11.70" lengthAdjust="spacingAndGlyphs">04</text>
<text x="448.95" y="43" font-size="9.3" fill="#4a4a4a" style="font-family:'DejaVu Sans Condensed','DejaVu Sans',sans-serif" textLength="11.70" lengthAdjust="spacingAndGlyphs">05</text>
<text x="467.95" y="43" font-size="9.3" fill="#4a4a4a" style="font-family:'DejaVu Sans Condensed','DejaVu Sans',sans-serif" textLength="11.70" lengthAdjust="spacingAndGlyphs">06</text>
<text x="486.95" y="43" font-size="9.3" fill="#4a4a4a" style="font-family:'DejaVu Sans Condensed','DejaVu Sans',sans-serif" textLength="11.70" lengthAdjust="spacingAndGlyphs">07</text>
<text x="505.95" y="43" font-size="9.3" fill="#4a4a4a" style="font-family:'DejaVu Sans Condensed','DejaVu Sans',sans-serif" textLength="11.70" lengthAdjust="spacingAndGlyphs">08</text>
<text x="524.95" y="43" font-size="9.3" fill="#4a4a4a" style="font-family:'DejaVu Sans Condensed','DejaVu Sans',sans-serif" textLength="11.70" lengthAdjust="spacingAndGlyphs">09</text>
<text x="543.95" y="43" font-size="9.3" fill="#4a4a4a" style="font-family:'DejaVu Sans Condensed','DejaVu Sans',sans-serif" textLength="11.70" lengthAdjust="spacingAndGlyphs">10</text>
<text x="562.95" y="43" font-size="9.3" fill="#4a4a4a" style="font-family:'DejaVu Sans Condensed','DejaVu Sans',sans-serif" textLength="11.70" lengthAdjust="spacingAndGlyphs">11</text>
<text x="581.95" y="43" font-size="9.3" fill="#4a4a4a" style="font-family:'DejaVu Sans Condensed','DejaVu Sans',sans-serif" textLength="11.70" lengthAdjust="spacingAndGlyphs">12</text>
<text x="600.95" y="43" font-size="9.3" fill="#4a4a4a" style="font-family:'DejaVu Sans Condensed','DejaVu Sans',sans-serif" textLength="11.70" lengthAdjust="spacingAndGlyphs">13</text>
<text x="619.95" y="43" font-size="9.3" fill="#4a4a4a" style="font-family:'DejaVu Sans Condensed','DejaVu Sans',sans-serif" textLength="11.70" lengthAdjust="spacingAndGlyphs">14</text>
<text x="638.95" y="43" font-size="9.3" fill="#4a4a4a" style="font-family:'DejaVu Sans Condensed','DejaVu Sans',sans-serif" textLength="11.70" lengthAdjust="spacingAndGlyphs">15</text>
<text x="30.95" y="316" font-size="9.3" fill="#4a4a4a" style="font-family:'DejaVu Sans Condensed','DejaVu Sans',sans-serif" textLength="11.70" lengthAdjust="spacingAndGlyphs">01</text>
<text x="49.95" y="316" font-size="9.3" fill="#4a4a4a" style="font-family:'DejaVu Sans Condensed','DejaVu Sans',sans-serif" textLength="11.70" lengthAdjust="spacingAndGlyphs">02</text>
<text x="68.95" y="316" font-size="9.3" fill="#4a4a4a" style="font-family:'DejaVu Sans Condensed','DejaVu Sans',sans-serif" textLength="11.70" lengthAdjust="spacingAndGlyphs">03</text>
<text x="87.95" y="316" font-size="9.3" fill="#4a4a4a" style="font-family:'DejaVu Sans Condensed','DejaVu Sans',sans-serif" textLength="11.70" lengthAdjust="spacingAndGlyphs">04</text>
<text x="106.95" y="316" font-size="9.3" fill="#4a4a4a" style="font-family:'DejaVu Sans Condensed','DejaVu Sans',sans-serif" textLength="11.70" lengthAdjust="spacingAndGlyphs">05</text>
<text x="125.95" y="316" font-size="9.3" fill="#4a4a4a" style="font-family:'DejaVu Sans Condensed','DejaVu Sans',sans-serif" textLength="11.70" lengthAdjust="spacingAndGlyphs">06</text>
<text x="144.95" y="316" font-size="9.3" fill="#4a4a4a" style="font-family:'DejaVu Sans Condensed','DejaVu Sans',sans-serif" textLength="11.70" lengthAdjust="spacingAndGlyphs">07</text>
<text x="163.95" y="316" font-size="9.3" fill="#4a4a4a" style="font-family:'DejaVu Sans Condensed','DejaVu Sans',sans-serif" textLength="11.70" lengthAdjust="spacingAndGlyphs">08</text>
<text x="182.95" y="316" font-size="9.3" fill="#4a4a4a" style="font-family:'DejaVu Sans Condensed','DejaVu Sans',sans-serif" textLength="11.70" lengthAdjust="spacingAndGlyphs">09</text>
<text x="201.95" y="316" font-size="9.3" fill="#4a4a4a" style="font-family:'DejaVu Sans Condensed','DejaVu Sans',sans-serif" textLength="11.70" lengthAdjust="spacingAndGlyphs">10</text>
<text x="220.95" y="316" font-size="9.3" fill="#4a4a4a" style="font-family:'DejaVu Sans Condensed','DejaVu Sans',sans-serif" textLength="11.70" lengthAdjust="spacingAndGlyphs">11</text>
<text x="239.95" y="316" font-size="9.3" fill="#4a4a4a" style="font-family:'DejaVu Sans Condensed','DejaVu Sans',sans-serif" textLength="11.70" lengthAdjust="spacingAndGlyphs">12</text>
<text x="258.95" y="316" font-size="9.3" fill="#4a4a4a" style="font-family:'DejaVu Sans Condensed','DejaVu Sans',sans-serif" textLength="11.70" lengthAdjust="spacingAndGlyphs">13</text>
<text x="277.95" y="316" font-size="9.3" fill="#4a4a4a" style="font-family:'DejaVu Sans Condensed','DejaVu Sans',sans-serif" textLength="11.70" lengthAdjust="spacingAndGlyphs">14</text>
<text x="296.95" y="316" font-size="9.3" fill="#4a4a4a" style="font-family:'DejaVu Sans Condensed','DejaVu Sans',sans-serif" textLength="11.70" lengthAdjust="spacingAndGlyphs">15</text>
<text x="315.95" y="316" font-size="9.3" fill="#4a4a4a" style="font-family:'DejaVu Sans Condensed','DejaVu Sans',sans-serif" textLength="11.70" lengthAdjust="spacingAndGlyphs">16</text>
<text x="334.95" y="316" font-size="9.3" fill="#4a4a4a" style="font-family:'DejaVu Sans Condensed','DejaVu Sans',sans-serif" textLength="11.70" lengthAdjust="spacingAndGlyphs">17</text>
<text x="353.95" y="316" font-size="9.3" fill="#4a4a4a" style="font-family:'DejaVu Sans Condensed','DejaVu Sans',sans-serif" textLength="11.70" lengthAdjust="spacingAndGlyphs">18</text>
<text x="372.95" y="316" font-size="9.3" fill="#4a4a4a" style="font-family:'DejaVu Sans Condensed','DejaVu Sans',sans-serif" textLength="11.70" lengthAdjust="spacingAndGlyphs">19</text>
<text x="391.95" y="316" font-size="9.3" fill="#4a4a4a" style="font-family:'DejaVu Sans Condensed','DejaVu Sans',sans-serif" textLength="11.70" lengthAdjust="spacingAndGlyphs">20</text>
<text x="410.95" y="316" font-size="9.3" fill="#4a4a4a" style="font-family:'DejaVu Sans Condensed','DejaVu Sans',sans-serif" textLength="11.70" lengthAdjust="spacingAndGlyphs">21</text>
<text x="429.95" y="316" font-size="9.3" fill="#4a4a4a" style="font-family:'DejaVu Sans Condensed','DejaVu Sans',sans-serif" textLength="11.70" lengthAdjust="spacingAndGlyphs">22</text>
<text x="448.95" y="316" font-size="9.3" fill="#4a4a4a" style="font-family:'DejaVu Sans Condensed','DejaVu Sans',sans-serif" textLength="11.70" lengthAdjust="spacingAndGlyphs">23</text>
<text x="467.95" y="316" font-size="9.3" fill="#4a4a4a" style="font-family:'DejaVu Sans Condensed','DejaVu Sans',sans-serif" textLength="11.70" lengthAdjust="spacingAndGlyphs">24</text>
<text x="486.95" y="316" font-size="9.3" fill="#4a4a4a" style="font-family:'DejaVu Sans Condensed','DejaVu Sans',sans-serif" textLength="11.70" lengthAdjust="spacingAndGlyphs">25</text>
<text x="505.95" y="316" font-size="9.3" fill="#4a4a4a" style="font-family:'DejaVu Sans Condensed','DejaVu Sans',sans-serif" textLength="11.70" lengthAdjust="spacingAndGlyphs">26</text>
<text x="524.95" y="316" font-size="9.3" fill="#4a4a4a" style="font-family:'DejaVu Sans Condensed','DejaVu Sans',sans-serif" textLength="11.70" lengthAdjust="spacingAndGlyphs">27</text>
<text x="542.10" y="317" font-size="10.3" fill="#4a4a4a" style="font-family:'DejaVu Sans Condensed','DejaVu Sans',sans-serif" textLength="13.57" lengthAdjust="spacingAndGlyphs">28</text>
<text x="562.95" y="316" font-size="9.3" fill="#4a4a4a" style="font-family:'DejaVu Sans Condensed','DejaVu Sans',sans-serif" textLength="11.70" lengthAdjust="spacingAndGlyphs">29</text>
<text x="581.95" y="316" font-size="9.3" fill="#4a4a4a" style="font-family:'DejaVu Sans Condensed','DejaVu Sans',sans-serif" textLength="11.70" lengthAdjust="spacingAndGlyphs">30</text>
<text x="600.95" y="316" font-size="9.3" fill="#4a4a4a" style="font-family:'DejaVu Sans Condensed','DejaVu Sans',sans-serif" textLength="11.70" lengthAdjust="spacingAndGlyphs">31</text>
<text x="619.95" y="316" font-size="9.3" fill="#4a4a4a" style="font-family:'DejaVu Sans Condensed','DejaVu Sans',sans-serif" textLength="11.70" lengthAdjust="spacingAndGlyphs">32</text>
<text x="638.95" y="316" font-size="9.3" fill="#4a4a4a" style="font-family:'DejaVu Sans Condensed','DejaVu Sans',sans-serif" textLength="11.70" lengthAdjust="spacingAndGlyphs">33</text>
<text x="30.95" y="441" font-size="9.3" fill="#f0305a" style="font-family:'DejaVu Sans Condensed','DejaVu Sans',sans-serif" textLength="11.70" lengthAdjust="spacingAndGlyphs">25</text>
<text x="49.95" y="441" font-size="9.3" fill="#f0305a" style="font-family:'DejaVu Sans Condensed','DejaVu Sans',sans-serif" textLength="11.70" lengthAdjust="spacingAndGlyphs">26</text>
<text x="68.95" y="441" font-size="9.3" fill="#4a4a4a" style="font-family:'DejaVu Sans Condensed','DejaVu Sans',sans-serif" textLength="11.70" lengthAdjust="spacingAndGlyphs">27</text>
<text x="87.95" y="441" font-size="9.3" fill="#4a4a4a" style="font-family:'DejaVu Sans Condensed','DejaVu Sans',sans-serif" textLength="11.70" lengthAdjust="spacingAndGlyphs">28</text>
<text x="106.95" y="441" font-size="9.3" fill="#4a4a4a" style="font-family:'DejaVu Sans Condensed','DejaVu Sans',sans-serif" textLength="11.70" lengthAdjust="spacingAndGlyphs">29</text>
<text x="125.95" y="441" font-size="9.3" fill="#4a4a4a" style="font-family:'DejaVu Sans Condensed','DejaVu Sans',sans-serif" textLength="11.70" lengthAdjust="spacingAndGlyphs">30</text>
<text x="144.95" y="441" font-size="9.3" fill="#4a4a4a" style="font-family:'DejaVu Sans Condensed','DejaVu Sans',sans-serif" textLength="11.70" lengthAdjust="spacingAndGlyphs">31</text>
<text x="163.95" y="441" font-size="9.3" fill="#f0305a" style="font-family:'DejaVu Sans Condensed','DejaVu Sans',sans-serif" textLength="11.70" lengthAdjust="spacingAndGlyphs">01</text>
<text x="182.95" y="441" font-size="9.3" fill="#f0305a" style="font-family:'DejaVu Sans Condensed','DejaVu Sans',sans-serif" textLength="11.70" lengthAdjust="spacingAndGlyphs">02</text>
<text x="201.95" y="441" font-size="9.3" fill="#4a4a4a" style="font-family:'DejaVu Sans Condensed','DejaVu Sans',sans-serif" textLength="11.70" lengthAdjust="spacingAndGlyphs">03</text>
<text x="220.95" y="441" font-size="9.3" fill="#4a4a4a" style="font-family:'DejaVu Sans Condensed','DejaVu Sans',sans-serif" textLength="11.70" lengthAdjust="spacingAndGlyphs">04</text>
<text x="239.95" y="441" font-size="9.3" fill="#4a4a4a" style="font-family:'DejaVu Sans Condensed','DejaVu Sans',sans-serif" textLength="11.70" lengthAdjust="spacingAndGlyphs">05</text>
<text x="258.95" y="441" font-size="9.3" fill="#4a4a4a" style="font-family:'DejaVu Sans Condensed','DejaVu Sans',sans-serif" textLength="11.70" lengthAdjust="spacingAndGlyphs">06</text>
<text x="277.95" y="441" font-size="9.3" fill="#4a4a4a" style="font-family:'DejaVu Sans Condensed','DejaVu Sans',sans-serif" textLength="11.70" lengthAdjust="spacingAndGlyphs">07</text>
<text x="296.95" y="441" font-size="9.3" fill="#f0305a" style="font-family:'DejaVu Sans Condensed','DejaVu Sans',sans-serif" textLength="11.70" lengthAdjust="spacingAndGlyphs">08</text>
<text x="315.95" y="441" font-size="9.3" fill="#f0305a" style="font-family:'DejaVu Sans Condensed','DejaVu Sans',sans-serif" textLength="11.70" lengthAdjust="spacingAndGlyphs">09</text>
<text x="334.95" y="441" font-size="9.3" fill="#4a4a4a" style="font-family:'DejaVu Sans Condensed','DejaVu Sans',sans-serif" textLength="11.70" lengthAdjust="spacingAndGlyphs">10</text>
<text x="353.95" y="441" font-size="9.3" fill="#4a4a4a" style="font-family:'DejaVu Sans Condensed','DejaVu Sans',sans-serif" textLength="11.70" lengthAdjust="spacingAndGlyphs">11</text>
<text x="372.95" y="441" font-size="9.3" fill="#4a4a4a" style="font-family:'DejaVu Sans Condensed','DejaVu Sans',sans-serif" textLength="11.70" lengthAdjust="spacingAndGlyphs">12</text>
<text x="391.95" y="441" font-size="9.3" fill="#4a4a4a" style="font-family:'DejaVu Sans Condensed','DejaVu Sans',sans-serif" textLength="11.70" lengthAdjust="spacingAndGlyphs">13</text>
<text x="410.95" y="441" font-size="9.3" fill="#4a4a4a" style="font-family:'DejaVu Sans Condensed','DejaVu Sans',sans-serif" textLength="11.70" lengthAdjust="spacingAndGlyphs">14</text>
<text x="429.95" y="441" font-size="9.3" fill="#f0305a" style="font-family:'DejaVu Sans Condensed','DejaVu Sans',sans-serif" textLength="11.70" lengthAdjust="spacingAndGlyphs">15</text>
<text x="448.95" y="441" font-size="9.3" fill="#f0305a" style="font-family:'DejaVu Sans Condensed','DejaVu Sans',sans-serif" textLength="11.70" lengthAdjust="spacingAndGlyphs">16</text>
<text x="467.95" y="441" font-size="9.3" fill="#4a4a4a" style="font-family:'DejaVu Sans Condensed','DejaVu Sans',sans-serif" textLength="11.70" lengthAdjust="spacingAndGlyphs">17</text>
<text x="486.95" y="441" font-size="9.3" fill="#4a4a4a" style="font-family:'DejaVu Sans Condensed','DejaVu Sans',sans-serif" textLength="11.70" lengthAdjust="spacingAndGlyphs">18</text>
<text x="505.95" y="441" font-size="9.3" fill="#4a4a4a" style="font-family:'DejaVu Sans Condensed','DejaVu Sans',sans-serif" textLength="11.70" lengthAdjust="spacingAndGlyphs">19</text>
<text x="524.95" y="441" font-size="9.3" fill="#4a4a4a" style="font-family:'DejaVu Sans Condensed','DejaVu Sans',sans-serif" textLength="11.70" lengthAdjust="spacingAndGlyphs">20</text>
<text x="542.10" y="440.5" font-size="10.3" fill="#4a4a4a" style="font-family:'DejaVu Sans Condensed','DejaVu Sans',sans-serif" textLength="12.98" lengthAdjust="spacingAndGlyphs">21</text>
<text x="562.95" y="441" font-size="9.3" fill="#f0305a" style="font-family:'DejaVu Sans Condensed','DejaVu Sans',sans-serif" textLength="11.70" lengthAdjust="spacingAndGlyphs">22</text>
<text x="581.95" y="441" font-size="9.3" fill="#f0305a" style="font-family:'DejaVu Sans Condensed','DejaVu Sans',sans-serif" textLength="11.70" lengthAdjust="spacingAndGlyphs">23</text>
<text x="600.95" y="441" font-size="9.3" fill="#4a4a4a" style="font-family:'DejaVu Sans Condensed','DejaVu Sans',sans-serif" textLength="11.70" lengthAdjust="spacingAndGlyphs">24</text>
<text x="619.95" y="441" font-size="9.3" fill="#4a4a4a" style="font-family:'DejaVu Sans Condensed','DejaVu Sans',sans-serif" textLength="11.70" lengthAdjust="spacingAndGlyphs">25</text>
<text x="638.95" y="441" font-size="9.3" fill="#4a4a4a" style="font-family:'DejaVu Sans Condensed','DejaVu Sans',sans-serif" textLength="11.70" lengthAdjust="spacingAndGlyphs">26</text>
<text x="26.80" y="457" font-size="10" fill="#666" style="font-family:'DejaVu Sans Condensed','DejaVu Sans',sans-serif" textLength="37.26" lengthAdjust="spacingAndGlyphs">Январь</text>
<text x="163.89" y="457" font-size="10" fill="#666" style="font-family:'DejaVu Sans Condensed','DejaVu Sans',sans-serif" textLength="45.49" lengthAdjust="spacingAndGlyphs">Февраль</text>
<text x="30.71" y="489.5" font-size="12" fill="#222" stroke="#222" stroke-width="0.2" font-weight="bold" textLength="69.92" lengthAdjust="spacingAndGlyphs">Менструация</text>
<text x="50.46" y="509.1" font-size="11" fill="#2d2d2d" stroke="#2d2d2d" stroke-width="0.3" textLength="64.01" lengthAdjust="spacingAndGlyphs">Менструация</text>
<text x="50.46" y="529.8" font-size="11" fill="#2d2d2d" stroke="#2d2d2d" stroke-width="0.3" textLength="111.72" lengthAdjust="spacingAndGlyphs">Небольшие выделения</text>
<text x="185.60" y="490" font-size="12" fill="#222" stroke="#222" stroke-width="0.2" font-weight="bold" textLength="90.76" lengthAdjust="spacingAndGlyphs">Тест на овуляцию</text>
<text x="204.26" y="509.3" font-size="11" fill="#2d2d2d" stroke="#2d2d2d" stroke-width="0.3" textLength="78.07" lengthAdjust="spacingAndGlyphs">Положительный</text>
<text x="205.20" y="529.8" font-size="11" fill="#2d2d2d" stroke="#2d2d2d" stroke-width="0.3" textLength="75.21" lengthAdjust="spacingAndGlyphs">Отрицательный</text>
<text x="315.90" y="489.6" font-size="12" fill="#222" stroke="#222" stroke-width="0.2" font-weight="bold" textLength="113.20" lengthAdjust="spacingAndGlyphs">Тест на беременность</text>
<text x="334.36" y="509.3" font-size="11" fill="#2d2d2d" stroke="#2d2d2d" stroke-width="0.3" textLength="78.17" lengthAdjust="spacingAndGlyphs">Положительный</text>
<text x="335.30" y="529.8" font-size="11" fill="#2d2d2d" stroke="#2d2d2d" stroke-width="0.3" textLength="75.11" lengthAdjust="spacingAndGlyphs">Отрицательный</text>
<text x="334.38" y="549.8" font-size="11" fill="#2d2d2d" stroke="#2d2d2d" stroke-width="0.3" textLength="105.09" lengthAdjust="spacingAndGlyphs">Слабоположительный</text>
<text x="470.42" y="490" font-size="12" fill="#222" stroke="#222" stroke-width="0.2" font-weight="bold" textLength="128.64" lengthAdjust="spacingAndGlyphs">Цервикальная жидкость</text>
<text x="491.73" y="511.6" font-size="11" fill="#2d2d2d" stroke="#2d2d2d" stroke-width="0.3" textLength="21.83" lengthAdjust="spacingAndGlyphs">Сухо</text>
<text x="491.66" y="531.6" font-size="11" fill="#2d2d2d" stroke="#2d2d2d" stroke-width="0.3" textLength="39.85" lengthAdjust="spacingAndGlyphs">Клейкая</text>
<text x="491.64" y="551.8" font-size="11" fill="#2d2d2d" stroke="#2d2d2d" stroke-width="0.3" textLength="76.87" lengthAdjust="spacingAndGlyphs">Кремообразная</text>
<text x="491.68" y="571.8" font-size="11" fill="#2d2d2d" stroke="#2d2d2d" stroke-width="0.3" textLength="55.49" lengthAdjust="spacingAndGlyphs">Водянистая</text>
<text x="491.66" y="591.6" font-size="11" fill="#2d2d2d" stroke="#2d2d2d" stroke-width="0.3" textLength="68.33" lengthAdjust="spacingAndGlyphs">Яичный белок</text>
<text x="50.25" y="592.4" font-size="11" fill="#2d2d2d" stroke="#2d2d2d" stroke-width="0.3" textLength="60.71" lengthAdjust="spacingAndGlyphs">Половой акт</text>
<text x="150.77" y="592.4" font-size="11" fill="#2d2d2d" stroke="#2d2d2d" stroke-width="0.3" textLength="77.04" lengthAdjust="spacingAndGlyphs">Прием лекарств</text>
<text x="271.10" y="592.4" font-size="11" fill="#2d2d2d" stroke="#2d2d2d" stroke-width="0.3" textLength="89.86" lengthAdjust="spacingAndGlyphs">Лунный календарь</text>
</g>
</svg></body></html>
